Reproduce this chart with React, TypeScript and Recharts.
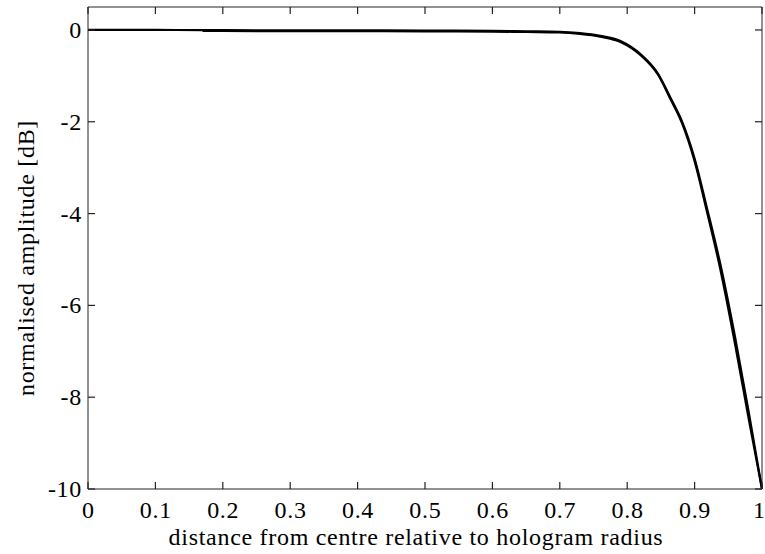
import React from 'react';
import { LineChart, Line, XAxis, YAxis, Label } from 'recharts';

const xValues = [0, 0.1, 0.17, 0.2, 0.3, 0.4, 0.5, 0.6, 0.65, 0.7, 0.73, 0.76, 0.79, 0.82, 0.846, 0.864, 0.881, 0.9, 0.918, 0.938, 0.96, 0.98, 1.0];
const amplitudeDb = [0, 0, -0.003, -0.005, -0.01, -0.01, -0.015, -0.02, -0.03, -0.04, -0.07, -0.13, -0.24, -0.53, -0.96, -1.47, -1.98, -2.8, -3.86, -5.09, -6.69, -8.3, -10];
const overlapDb = [null, null, -0.02, -0.022, -0.025, -0.025, -0.03, -0.035, -0.045, -0.055, -0.085, -0.145, -0.26, -0.55, -0.98, -1.5, -2.02, -2.86, -3.94, -5.2, -6.84, -8.45, -10];
const xTicks = [0, 0.1, 0.2, 0.3, 0.4, 0.5, 0.6, 0.7, 0.8, 0.9, 1];
const yTicks = [0, -2, -4, -6, -8, -10];

const data = xValues.map((x, i) => ({ x, a: amplitudeDb[i], b: overlapDb[i] }));

const FONT = '"Liberation Serif", "Times New Roman", Times, serif';
const AXIS = '#222';
const TEXT_STYLE = { fill: '#000', fontSize: 24, fontFamily: FONT, letterSpacing: 0.7 } as const;
const TICK_LEN = 7;

const fmtX = (v: number) => (v === 0 || v === 1 ? String(v) : v.toFixed(1));

const BottomTick = (props: any) => {
  const { x, y, payload, index, visibleTicksCount } = props;
  const isLast = index === visibleTicksCount - 1;
  return (
    <g>
      <path d={`M${x},${y}V${y - TICK_LEN}`} stroke={AXIS} strokeWidth={1.2} fill="none" />
      <text
        x={isLast ? x + 3 : x + 0.4}
        y={y + 29}
        textAnchor={isLast ? 'end' : 'middle'}
        style={{ ...TEXT_STYLE, letterSpacing: isLast ? 0 : 0.7 }}
      >
        {fmtX(payload.value)}
      </text>
    </g>
  );
};

const TopTick = (props: any) => {
  const { x, y } = props;
  return <path d={`M${x},${y}V${y + TICK_LEN}`} stroke={AXIS} strokeWidth={1.2} fill="none" />;
};

const LeftTick = (props: any) => {
  const { x, y, payload } = props;
  return (
    <g>
      <path d={`M${x},${y}H${x + TICK_LEN}`} stroke={AXIS} strokeWidth={1.2} fill="none" />
      <text x={x - 6} y={y + 8} textAnchor="end" style={TEXT_STYLE}>
        {String(payload.value)}
      </text>
    </g>
  );
};

const RightTick = (props: any) => {
  const { x, y } = props;
  return <path d={`M${x},${y}H${x - TICK_LEN}`} stroke={AXIS} strokeWidth={1.2} fill="none" />;
};

export default function App() {
  return (
    <div style={{ position: 'absolute', left: 0, top: 0, background: '#fff' }}>
      <LineChart width={765} height={554} data={data} margin={{ top: 0, right: 0, bottom: 0, left: 0 }}>
        <XAxis
          xAxisId="bottom"
          dataKey="x"
          type="number"
          domain={[0, 1]}
          ticks={xTicks}
          height={65}
          tickSize={0}
          tickMargin={0}
          tickLine={false}
          stroke={AXIS}
          tick={BottomTick}
          interval={0}
        >
          <Label
            content={({ viewBox }: any) => (
              <text x={416} y={viewBox.y + 56} textAnchor="middle" style={TEXT_STYLE}>
                distance from centre relative to hologram radius
              </text>
            )}
          />
        </XAxis>
        <XAxis
          xAxisId="top"
          orientation="top"
          dataKey="x"
          type="number"
          domain={[0, 1]}
          ticks={xTicks}
          height={7}
          tickSize={0}
          tickMargin={0}
          tickLine={false}
          stroke={AXIS}
          tick={TopTick}
          interval={0}
        />
        <YAxis
          yAxisId="left"
          type="number"
          domain={[-10, 0.5]}
          ticks={yTicks}
          width={88}
          tickSize={0}
          tickMargin={0}
          tickLine={false}
          stroke={AXIS}
          tick={LeftTick}
          interval={0}
        >
          <Label
            content={({ viewBox }: any) => {
              const cy = viewBox.y + viewBox.height / 2 + 10;
              return (
                <text
                  x={33.5}
                  y={cy}
                  transform={`rotate(-90, 33.5, ${cy})`}
                  textAnchor="middle"
                  style={TEXT_STYLE}
                >
                  normalised amplitude [dB]
                </text>
              );
            }}
          />
        </YAxis>
        <YAxis
          yAxisId="right"
          orientation="right"
          type="number"
          domain={[-10, 0.5]}
          ticks={yTicks}
          width={3}
          tickSize={0}
          tickMargin={0}
          tickLine={false}
          stroke={AXIS}
          tick={RightTick}
          interval={0}
        />
        <Line
          xAxisId="bottom"
          yAxisId="left"
          dataKey="a"
          type="monotone"
          stroke="#000"
          strokeWidth={2.2}
          dot={false}
          isAnimationActive={false}
        />
        <Line
          xAxisId="top"
          yAxisId="right"
          dataKey="b"
          type="monotone"
          stroke="#000"
          strokeWidth={2.2}
          dot={false}
          connectNulls={false}
          isAnimationActive={false}
        />
      </LineChart>
    </div>
  );
}
